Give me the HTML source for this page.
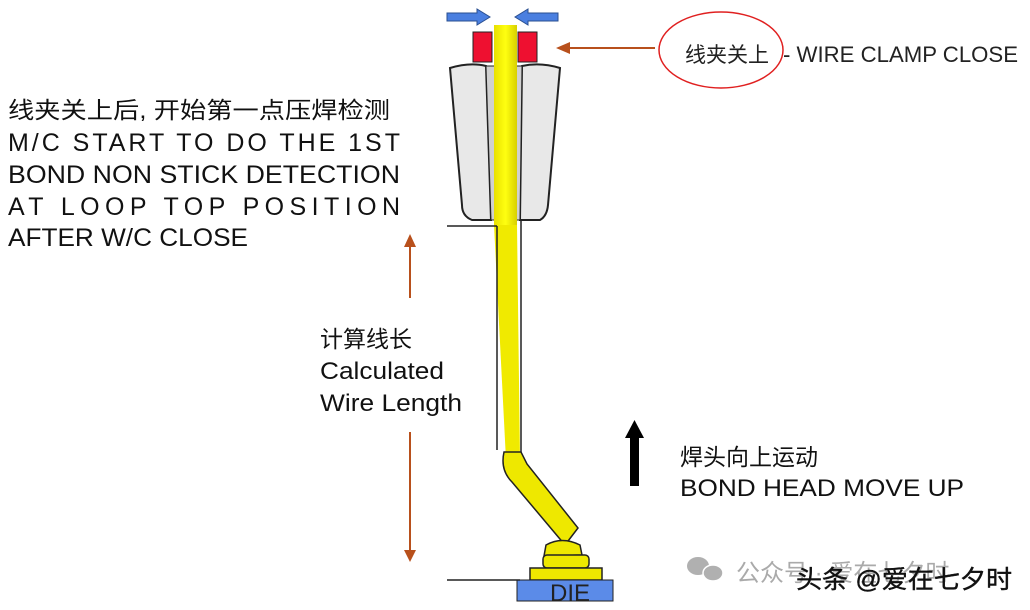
<!DOCTYPE html>
<html><head><meta charset="utf-8"><style>
html,body{margin:0;padding:0;background:#fff;width:1030px;height:610px;overflow:hidden}
svg text{font-family:"Liberation Sans","Noto Sans CJK SC",sans-serif}
</style></head><body>
<svg width="1030" height="610" viewBox="0 0 1030 610" xmlns="http://www.w3.org/2000/svg">
<defs>
<linearGradient id="y" x1="0" x2="1"><stop offset="0" stop-color="#e8e000"/><stop offset=".5" stop-color="#ffff10"/><stop offset="1" stop-color="#d8d000"/></linearGradient>
</defs>
<polygon points="447,13 477,13 477,9 490,17 477,25 477,21 447,21" fill="#4a7fe0" stroke="#2a4f90" stroke-width="1"/>
<polygon points="558,13 528,13 528,9 515,17 528,25 528,21 558,21" fill="#4a7fe0" stroke="#2a4f90" stroke-width="1"/>
<rect x="473" y="32" width="19" height="30" fill="#ee1030" stroke="#222"/>
<rect x="518" y="32" width="19" height="30" fill="#ee1030" stroke="#222"/>
<path d="M450,68 Q470,62 486,66 L491,220 L472,220 Q462,216 462,205 Z" fill="#e8e8e8" stroke="#222" stroke-width="2"/>
<path d="M522,66 Q540,62 560,68 L548,205 Q547,216 540,220 L520,220 Z" fill="#e8e8e8" stroke="#222" stroke-width="2"/>
<path d="M486,66 L522,66 L520,220 L491,220 Z" fill="#d0d0d0" stroke="#222" stroke-width="1"/>
<rect x="494" y="25" width="23" height="200" fill="url(#y)"/>
<polygon points="494,225 517,225 520,460 506,460" fill="#f0ea00"/>
<line x1="447" y1="226" x2="497" y2="226" stroke="#222" stroke-width="1.5"/>
<line x1="497" y1="226" x2="497" y2="450" stroke="#222" stroke-width="1.5"/>
<line x1="521" y1="220" x2="521" y2="465" stroke="#222" stroke-width="1.5"/>
<path d="M504,452 L521,452 L527,464 L578,528 L565,545 L512,482 Q500,470 504,452 Z" fill="#eee800" stroke="#222" stroke-width="1.5"/>
<path d="M546,545 Q562,536 580,545 L582,555 L544,556 Z" fill="#eee800" stroke="#222" stroke-width="1.5"/>
<rect x="543" y="555" width="46" height="13" rx="4" fill="#eee800" stroke="#222" stroke-width="1.5"/>
<rect x="530" y="568" width="72" height="12" fill="#eee800" stroke="#222" stroke-width="1.5"/>
<rect x="517" y="580" width="96" height="21" fill="#5b8be8" stroke="#222" stroke-width="1"/>
<text x="550" y="601" font-size="24" fill="#222">DIE</text>
<line x1="447" y1="580" x2="520" y2="580" stroke="#222" stroke-width="1.5"/>
<line x1="410" y1="245" x2="410" y2="298" stroke="#b8501c" stroke-width="2"/>
<polygon points="404,247 416,247 410,234" fill="#b8501c"/>
<line x1="410" y1="432" x2="410" y2="552" stroke="#b8501c" stroke-width="2"/>
<polygon points="404,550 416,550 410,562" fill="#b8501c"/>
<line x1="568" y1="48" x2="655" y2="48" stroke="#b8501c" stroke-width="2"/>
<polygon points="556,48 570,42 570,54" fill="#b8501c"/>
<rect x="630" y="436" width="9" height="50" fill="#000"/>
<polygon points="625,438 644,438 634.5,420" fill="#000"/>
<ellipse cx="721" cy="50" rx="62" ry="38" fill="none" stroke="#e02020" stroke-width="1.5"/>
<text x="685" y="62" font-size="21" fill="#222">线夹关上</text>
<text x="783" y="62" font-size="22" fill="#222" textLength="235" lengthAdjust="spacingAndGlyphs">- WIRE CLAMP CLOSE</text>
<g font-size="25" fill="#111">
<text x="8" y="118" font-size="23" textLength="382" lengthAdjust="spacingAndGlyphs">线夹关上后, 开始第一点压焊检测</text>
<text x="8" y="151" textLength="392" lengthAdjust="spacing">M/C START TO DO THE 1ST</text>
<text x="8" y="183" textLength="392" lengthAdjust="spacingAndGlyphs">BOND NON STICK DETECTION</text>
<text x="8" y="215" textLength="392" lengthAdjust="spacing">AT LOOP TOP POSITION</text>
<text x="8" y="246" textLength="240" lengthAdjust="spacingAndGlyphs">AFTER W/C CLOSE</text>
</g>
<g font-size="24" fill="#111">
<text x="320" y="347" font-size="23">计算线长</text>
<text x="320" y="379" textLength="124" lengthAdjust="spacingAndGlyphs">Calculated</text>
<text x="320" y="411" textLength="142" lengthAdjust="spacingAndGlyphs">Wire Length</text>
<text x="680" y="465" font-size="23">焊头向上运动</text>
<text x="680" y="496" textLength="284" lengthAdjust="spacingAndGlyphs">BOND HEAD MOVE UP</text>
</g>
<g fill="#b0b0b0">
<ellipse cx="698" cy="566" rx="11" ry="9"/><ellipse cx="713" cy="573" rx="10" ry="8" stroke="#fff" stroke-width="1.5"/>
<text x="736" y="581" font-size="24" fill="#aaa">公众号 · 爱在七夕时</text>
</g>
<text x="796" y="588" font-size="25" fill="#111" stroke="#111" stroke-width="0.4" textLength="216" lengthAdjust="spacingAndGlyphs">头条 @爱在七夕时</text>
</svg>
</body></html>
